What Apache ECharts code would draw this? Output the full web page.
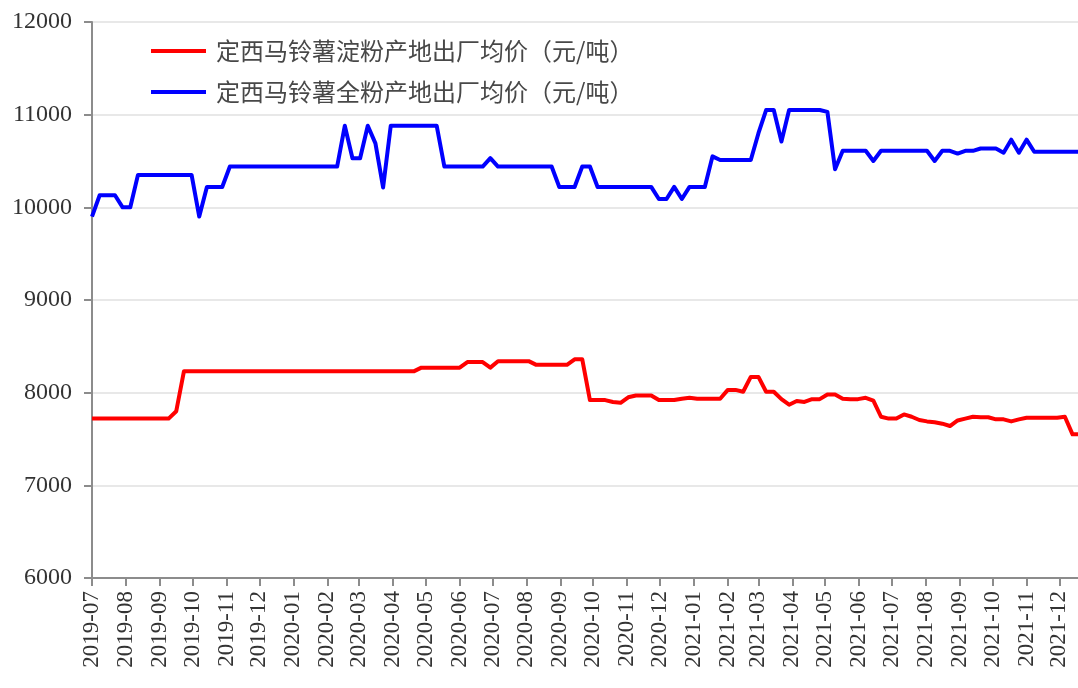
<!DOCTYPE html>
<html>
<head>
<meta charset="utf-8">
<script src="https://cdn.jsdelivr.net/npm/echarts@6/dist/echarts.min.js"></script>
<style>
html,body{margin:0;padding:0;background:#fff;}
#chart{width:1078px;height:688px;}
</style>
</head>
<body>
<div id="chart"></div>
<script>
// Weekly observation dates
const dates = [
'2019-07-01','2019-07-08','2019-07-15','2019-07-22','2019-07-29','2019-08-05','2019-08-12','2019-08-19','2019-08-26',
'2019-09-02','2019-09-09','2019-09-16','2019-09-23','2019-09-30','2019-10-07','2019-10-14','2019-10-21','2019-10-28',
'2019-11-04','2019-11-11','2019-11-18','2019-11-25','2019-12-02','2019-12-09','2019-12-16','2019-12-23','2019-12-30',
'2020-01-06','2020-01-13','2020-01-20','2020-01-27','2020-02-03','2020-02-10','2020-02-17','2020-02-24',
'2020-03-02','2020-03-09','2020-03-16','2020-03-23','2020-03-30','2020-04-06','2020-04-13','2020-04-20','2020-04-27',
'2020-05-04','2020-05-11','2020-05-18','2020-05-25','2020-06-01','2020-06-08','2020-06-15','2020-06-22','2020-06-29',
'2020-07-06','2020-07-13','2020-07-20','2020-07-27','2020-08-03','2020-08-10','2020-08-17','2020-08-24','2020-08-31',
'2020-09-07','2020-09-14','2020-09-21','2020-09-28','2020-10-05','2020-10-12','2020-10-19','2020-10-26',
'2020-11-02','2020-11-09','2020-11-16','2020-11-23','2020-11-30','2020-12-07','2020-12-14','2020-12-21','2020-12-28',
'2021-01-04','2021-01-11','2021-01-18','2021-01-25','2021-02-01','2021-02-08','2021-02-15','2021-02-22',
'2021-03-01','2021-03-08','2021-03-15','2021-03-22','2021-03-29','2021-04-05','2021-04-12','2021-04-19','2021-04-26',
'2021-05-03','2021-05-10','2021-05-17','2021-05-24','2021-05-31','2021-06-07','2021-06-14','2021-06-21','2021-06-28',
'2021-07-05','2021-07-12','2021-07-19','2021-07-26','2021-08-02','2021-08-09','2021-08-16','2021-08-23','2021-08-30',
'2021-09-06','2021-09-13','2021-09-20','2021-09-27','2021-10-04','2021-10-11','2021-10-18','2021-10-25',
'2021-11-01','2021-11-08','2021-11-15','2021-11-22','2021-11-29','2021-12-06','2021-12-13','2021-12-20'
];

// 定西马铃薯淀粉产地出厂均价（元/吨）
const starchPrice = [
7720,7720,7720,7720,7720,7720,7720,7720,7720,7720,7720,7800,8230,8230,8230,8230,8230,8230,
8230,8230,8230,8230,8230,8230,8230,8230,8230,8230,8230,8230,8230,8230,8230,8230,8230,8230,
8230,8230,8230,8230,8230,8230,8230,8270,8270,8270,8270,8270,8270,8330,8330,8330,8270,8340,
8340,8340,8340,8340,8300,8300,8300,8300,8300,8360,8360,7920,7920,7920,7900,7890,7950,7970,
7970,7970,7920,7920,7920,7935,7945,7935,7935,7935,7935,8030,8030,8010,8170,8170,8010,8010,
7930,7870,7910,7900,7930,7930,7980,7980,7935,7930,7930,7945,7915,7740,7720,7720,7765,7740,
7705,7690,7680,7665,7640,7700,7720,7740,7735,7735,7712,7712,7690,7712,7730,7730,7730,7730,
7730,7740,7550,7550
];

// 定西马铃薯全粉产地出厂均价（元/吨）
const wholePowderPrice = [
9900,10130,10130,10130,10000,10000,10350,10350,10350,10350,10350,10350,10350,10350,9900,10220,
10220,10220,10440,10440,10440,10440,10440,10440,10440,10440,10440,10440,10440,10440,10440,10440,
10440,10880,10530,10530,10880,10690,10215,10880,10880,10880,10880,10880,10880,10880,10440,10440,
10440,10440,10440,10440,10530,10440,10440,10440,10440,10440,10440,10440,10440,10220,10220,10220,
10440,10440,10220,10220,10220,10220,10220,10220,10220,10220,10090,10090,10220,10090,10220,10220,
10220,10550,10510,10510,10510,10510,10510,10800,11050,11050,10710,11050,11050,11050,11050,11050,
11030,10410,10610,10610,10610,10610,10500,10610,10610,10610,10610,10610,10610,10610,10500,10610,
10610,10580,10610,10610,10635,10635,10635,10590,10730,10590,10730,10600,10600,10600,10600,10600,
10600,10600
];

// Month tick labels on the x axis
const monthLabels = [
'2019-07','2019-08','2019-09','2019-10','2019-11','2019-12',
'2020-01','2020-02','2020-03','2020-04','2020-05','2020-06','2020-07','2020-08','2020-09','2020-10','2020-11','2020-12',
'2021-01','2021-02','2021-03','2021-04','2021-05','2021-06','2021-07','2021-08','2021-09','2021-10','2021-11','2021-12'
];

const seriesNames = ['定西马铃薯淀粉产地出厂均价（元/吨）', '定西马铃薯全粉产地出厂均价（元/吨）'];

function toTime(s) {
  const p = s.split('-').map(Number);
  return new Date(p[0], p[1] - 1, p[2] || 1).getTime();
}
const monthTicks = monthLabels.map(toTime);
function fmtMonth(v) {
  const i = monthTicks.indexOf(v);
  return i >= 0 ? monthLabels[i] : '';
}

const axisGray = '#8c8c8c';
const serif = "'Liberation Serif', 'DejaVu Serif', serif";

const chart = echarts.init(document.getElementById('chart'));
chart.setOption({
  animation: false,
  backgroundColor: '#ffffff',
  grid: { left: 92, right: 0, top: 22, bottom: 110, containLabel: false },
  legend: {
    orient: 'vertical',
    left: 146,
    top: 33,
    icon: 'rect',
    itemWidth: 55,
    itemHeight: 4,
    itemGap: 15,
    data: seriesNames,
    textStyle: {
      fontFamily: "'Noto Sans CJK SC', sans-serif",
      fontSize: 24,
      lineHeight: 26,
      color: '#484848',
      padding: [0, 0, 0, 5]
    }
  },
  xAxis: {
    type: 'value',
    min: toTime('2019-07-01'),
    max: toTime('2021-12-18'),
    axisLine: { show: true, onZero: false, lineStyle: { color: axisGray, width: 2 } },
    axisTick: { show: true, length: 8, lineStyle: { color: axisGray, width: 2 }, customValues: monthTicks },
    axisLabel: {
      customValues: monthTicks,
      rotate: 90,
      margin: 13,
      fontFamily: serif,
      fontSize: 23,
      color: '#333333',
      formatter: fmtMonth
    },
    splitLine: { show: false }
  },
  yAxis: {
    type: 'value',
    min: 6000,
    max: 12000,
    interval: 1000,
    axisLine: { show: true, onZero: false, lineStyle: { color: axisGray, width: 2 } },
    axisTick: { show: true, length: 8, lineStyle: { color: axisGray, width: 2 } },
    axisLabel: { margin: 20, fontFamily: serif, fontSize: 24, color: '#333333', formatter: v => String(v) },
    splitLine: { show: true, lineStyle: { color: '#e8e8e8', width: 2 } }
  },
  series: [
    {
      name: seriesNames[0],
      type: 'line',
      symbol: 'none',
      color: '#ff0000',
      lineStyle: { width: 4, color: '#ff0000', join: 'round' },
      data: dates.map((d, i) => [toTime(d), starchPrice[i]])
    },
    {
      name: seriesNames[1],
      type: 'line',
      symbol: 'none',
      color: '#0000ff',
      lineStyle: { width: 4, color: '#0000ff', join: 'round' },
      data: dates.map((d, i) => [toTime(d), wholePowderPrice[i]])
    }
  ]
});
</script>
</body>
</html>
